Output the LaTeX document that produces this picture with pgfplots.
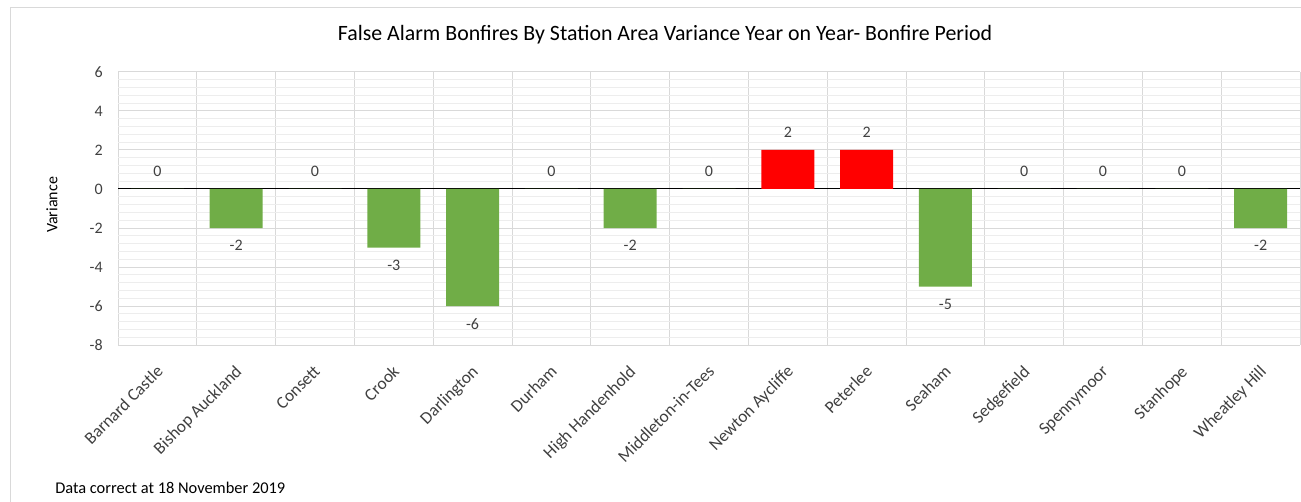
\documentclass[border=0pt]{standalone}
\usepackage{pgfplots}
\pgfplotsset{compat=1.18}
\usepackage{fontspec}
\setmainfont{Carlito}
\definecolor{barGreen}{HTML}{70AD47}
\definecolor{barRed}{HTML}{FF0000}
\definecolor{txt}{HTML}{404040}
\definecolor{gridc}{HTML}{D9D9D9}
\definecolor{gridm}{HTML}{EDEDED}
\begin{document}
\begin{tikzpicture}
\useasboundingbox (0,0) rectangle (975.75pt,375.75pt);
\draw[gridc, line width=0.75pt] (7.5pt,-5pt) -- (7.5pt,369.75pt) -- (990pt,369.75pt);
\begin{axis}[
  at={(88.5pt,117pt)}, anchor=south west,
  width=886.5pt, height=204.75pt, scale only axis,
  ymin=-8, ymax=6, ytick={-8,-6,...,6}, minor y tick num=4,
  xmin=-0.5, xmax=14.5, xtick={0,...,14},
  xticklabels={Barnard Castle,Bishop Auckland,Consett,Crook,Darlington,Durham,High Handenhold,Middleton-in-Tees,Newton Aycliffe,Peterlee,Seaham,Sedgefield,Spennymoor,Stanhope,Wheatley Hill},
  minor xtick={-0.5,0.5,...,14.5},
  ymajorgrids, yminorgrids, xminorgrids,
  major grid style={gridc, line width=0.75pt},
  minor y grid style={gridm, line width=0.6pt},
  minor x grid style={gridc, line width=0.75pt},
  major tick length=0pt, minor tick length=0pt,
  axis line style={draw=none},
  extra y ticks={0}, extra y tick labels={},
  extra y tick style={grid=major, major grid style={black, line width=0.75pt}},
  /pgf/number format/assume math mode=true,
  ticklabel style={font=\fontsize{12}{14}\selectfont, text=txt},
  yticklabel style={inner sep=2pt, xshift=-9.25pt},
  xticklabel style={font=\fontsize{13}{15}\selectfont, xshift=-1.5pt, yshift=-14.25pt, rotate=45, anchor=north east, inner sep=0pt},
  ylabel={Variance},
  ylabel style={at={(axis description cs:-0.056,0.513)}, anchor=center, font=\fontsize{12}{14}\selectfont, text=black},
  ybar, bar width=39.75pt,
  nodes near coords, nodes near coords align=vertical,
  every node near coord/.append style={font=\fontsize{12}{14}\selectfont, text=txt, inner sep=9pt},
  clip=false,
]
\addplot[fill=barGreen, draw=none, bar shift=0pt] coordinates {
 (0,0) (1,-2) (2,0) (3,-3) (4,-6) (5,0) (6,-2) (7,0) (10,-5) (11,0) (12,0) (13,0) (14,-2)};
\addplot[fill=barRed, draw=none, bar shift=0pt] coordinates {(8,2) (9,2)};
\end{axis}
\node[font=\fontsize{16.4}{19}\selectfont] at (498.75pt,349.5pt) {False Alarm Bonfires By Station Area Variance Year on Year- Bonfire Period};
\node[anchor=west, font=\fontsize{12.3}{14}\selectfont, inner sep=0pt] at (41.25pt,9.75pt) {Data correct at 18 November 2019};
\end{tikzpicture}
\end{document}
